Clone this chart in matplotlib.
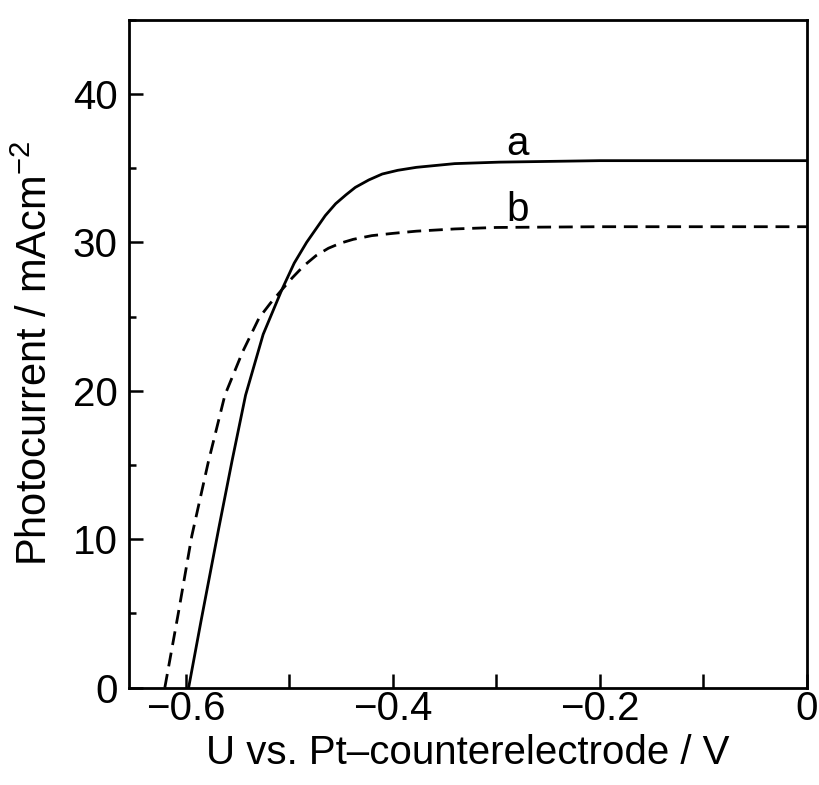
import matplotlib
matplotlib.use("Agg")
import matplotlib.pyplot as plt
from matplotlib.ticker import MultipleLocator

plt.rcParams['font.family'] = ['Liberation Sans', 'DejaVu Sans']

# Curve a (solid)
a_x = [-0.597, -0.585, -0.568, -0.555, -0.542, -0.525, -0.507, -0.495, -0.483,
       -0.474, -0.465, -0.455, -0.445, -0.436, -0.423, -0.41, -0.395, -0.377,
       -0.34, -0.297, -0.2, -0.1, 0.0]
a_y = [0.0, 4.5, 10.7, 15.3, 19.7, 23.8, 26.8, 28.6, 30.0,
       30.9, 31.8, 32.6, 33.2, 33.7, 34.2, 34.6, 34.85, 35.05,
       35.3, 35.4, 35.5, 35.5, 35.5]

# Curve b (dashed)
b_x = [-0.620, -0.607, -0.594, -0.578, -0.562, -0.545, -0.529, -0.518, -0.507,
       -0.497, -0.486, -0.474, -0.462, -0.45, -0.438, -0.42, -0.4, -0.377,
       -0.34, -0.3, -0.2, -0.1, 0.0]
b_y = [0.0, 5.0, 10.2, 15.2, 19.7, 22.6, 24.9, 25.9, 26.8,
       27.6, 28.4, 29.1, 29.6, 29.95, 30.2, 30.45, 30.6, 30.75,
       30.9, 31.0, 31.05, 31.05, 31.05]

labels = ['a', 'b']
label_pos = [(-0.279, 35.9), (-0.279, 31.45)]

fig = plt.figure(figsize=(8.19, 7.85), dpi=100)
ax = fig.add_axes([0.157, 0.124, 0.828, 0.851])

ax.plot(a_x, a_y, color='black', lw=2.0, solid_joinstyle='round')
ax.plot(b_x, b_y, color='black', lw=2.0, dashes=(5, 2.8))

for lab, (lx, ly) in zip(labels, label_pos):
    ax.text(lx, ly, lab, fontsize=29, ha='center', va='baseline')

ax.set_xlim(-0.655, 0.0)
ax.set_ylim(0, 45)

ax.xaxis.set_major_locator(MultipleLocator(0.2))
ax.xaxis.set_minor_locator(MultipleLocator(0.1))
ax.yaxis.set_major_locator(MultipleLocator(10))
ax.yaxis.set_minor_locator(MultipleLocator(5))

ax.set_xticks([-0.6, -0.4, -0.2, 0.0])
ax.set_xticklabels(['\u22120.6', '\u22120.4', '\u22120.2', '0'])

ax.tick_params(axis='both', which='both', direction='in', width=1.8,
               labelsize=29, top=False, right=False)
ax.tick_params(axis='x', which='major', length=10, pad=2)
ax.tick_params(axis='x', which='minor', length=10)
ax.tick_params(axis='y', which='major', length=10, pad=8)
ax.tick_params(axis='y', which='minor', length=5)

for s in ax.spines.values():
    s.set_linewidth(2.0)

ax.set_xlabel('U vs. Pt\u2013counterelectrode / V', fontsize=29, labelpad=4)
ax.set_ylabel('Photocurrent / mAcm$^{\\mathregular{-2}}$', fontsize=30, labelpad=12)

fig.savefig('out.png', dpi=100)
